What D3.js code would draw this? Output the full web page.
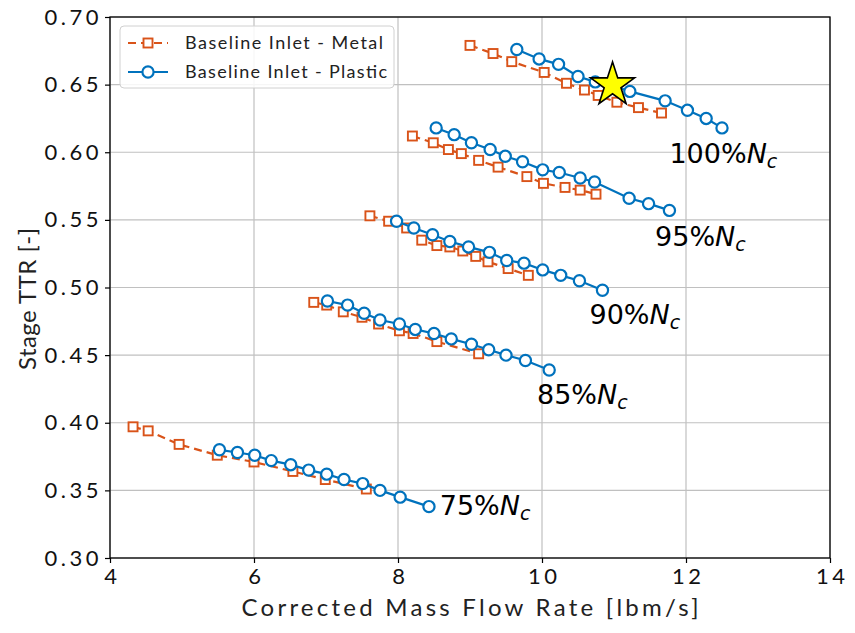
<!DOCTYPE html>
<meta charset="utf-8">
<style>
body { margin: 0; background: #fff; }
.tick text { font-family: Lato, "Open Sans", sans-serif; font-size: 22px; fill: #111; letter-spacing: 3.5px; }
.grid line { stroke: #c0c0c0; stroke-width: 1.2; }
.axis-label { font-family: Lato, "Open Sans", sans-serif; font-size: 24px; fill: #222; }
.speed { font-family: "DejaVu Sans", sans-serif; font-size: 27px; fill: #000; }
.legend text { font-family: Lato, "Open Sans", sans-serif; font-size: 18px; fill: #222; }
</style>
<body>
<script src="https://cdn.jsdelivr.net/npm/d3@7"></script>
<script>

var width = 855,
    height = 633,
    margin = {top: 17, right: 25, bottom: 75, left: 110};

var orange = "#D95319",
    blue = "#0072BD";

var xTicks = [4, 6, 8, 10, 12, 14];
var yTicks = [0.30, 0.35, 0.40, 0.45, 0.50, 0.55, 0.60, 0.65, 0.70];

// speed lines: [flow, TTR]
var speeds = ["75", "85", "90", "95", "100"];

var metal75 = [[4.32,0.397],[4.53,0.394],[4.96,0.384],[5.49,0.376],[6.00,0.371],[6.54,0.364],[6.99,0.358],[7.56,0.351]];
var metal85 = [[6.83,0.489],[7.01,0.487],[7.24,0.482],[7.50,0.478],[7.73,0.473],[8.02,0.468],[8.21,0.466],[8.54,0.460],[9.12,0.451]];
var metal90 = [[7.61,0.553],[7.87,0.549],[8.12,0.544],[8.33,0.535],[8.54,0.531],[8.72,0.530],[8.90,0.527],[9.08,0.523],[9.25,0.519],[9.53,0.514],[9.81,0.509]];
var metal95 = [[8.20,0.612],[8.49,0.607],[8.70,0.602],[8.88,0.599],[9.12,0.594],[9.39,0.589],[9.79,0.582],[10.02,0.577],[10.32,0.574],[10.53,0.572],[10.75,0.569]];
var metal100 = [[9.00,0.679],[9.32,0.673],[9.58,0.667],[10.03,0.659],[10.34,0.651],[10.59,0.646],[10.78,0.642],[11.04,0.637],[11.34,0.633],[11.66,0.629]];

var plastic75 = [[5.52,0.380],[5.77,0.378],[6.01,0.376],[6.24,0.372],[6.51,0.369],[6.76,0.365],[7.01,0.362],[7.25,0.358],[7.51,0.355],[7.75,0.350],[8.03,0.345],[8.43,0.338]];
var plastic85 = [[7.02,0.490],[7.30,0.487],[7.53,0.481],[7.75,0.476],[8.02,0.473],[8.24,0.469],[8.50,0.466],[8.74,0.462],[9.02,0.458],[9.26,0.454],[9.50,0.450],[9.77,0.446],[10.10,0.439]];
var plastic90 = [[7.98,0.549],[8.22,0.544],[8.48,0.539],[8.72,0.534],[8.98,0.530],[9.27,0.526],[9.51,0.520],[9.75,0.518],[10.01,0.513],[10.26,0.509],[10.52,0.505],[10.84,0.498]];
var plastic95 = [[8.53,0.618],[8.78,0.613],[9.02,0.607],[9.28,0.602],[9.49,0.597],[9.73,0.593],[10.01,0.587],[10.24,0.585],[10.53,0.581],[10.73,0.578],[11.21,0.566],[11.48,0.562],[11.77,0.557]];
var plastic100 = [[9.65,0.676],[9.96,0.669],[10.23,0.665],[10.50,0.656],[10.74,0.652],[10.99,0.649],[11.22,0.645],[11.71,0.638],[12.02,0.631],[12.28,0.625],[12.50,0.618]];

// label anchor (left, baseline) for each speed line
var labelPos = [[8.58,0.332],[9.93,0.414],[10.66,0.473],[11.57,0.531],[11.77,0.592]];

var designPoint = [10.98, 0.6497];

var metal = [metal75, metal85, metal90, metal95, metal100];
var plastic = [plastic75, plastic85, plastic90, plastic95, plastic100];

var x = d3.scaleLinear().domain([4, 14]).range([margin.left, width - margin.right]);
var y = d3.scaleLinear().domain([0.30, 0.70]).range([height - margin.bottom, margin.top]);

var svg = d3.select("body").append("svg")
    .attr("width", width)
    .attr("height", height);

// grid
svg.append("g").attr("class", "grid")
  .selectAll("line").data(xTicks).enter().append("line")
    .attr("x1", function(d) { return x(d); }).attr("x2", function(d) { return x(d); })
    .attr("y1", y(0.30)).attr("y2", y(0.70));
svg.append("g").attr("class", "grid")
  .selectAll("line").data(yTicks).enter().append("line")
    .attr("y1", function(d) { return y(d); }).attr("y2", function(d) { return y(d); })
    .attr("x1", x(4)).attr("x2", x(14));

// axes
var xAxis = svg.append("g")
    .attr("transform", "translate(0," + y(0.30) + ")")
    .call(d3.axisBottom(x).tickValues(xTicks).tickSize(5).tickPadding(5).tickFormat(d3.format("d")));
xAxis.selectAll(".tick text").attr("dx", "1.75px");
var yAxis = svg.append("g")
    .attr("transform", "translate(" + x(4) + ",0)")
    .call(d3.axisLeft(y).tickValues(yTicks).tickSize(5).tickPadding(3).tickFormat(d3.format(".2f")));
[xAxis, yAxis].forEach(function(a) {
  a.select(".domain").remove();
  a.selectAll(".tick line").attr("stroke", "#000").attr("stroke-width", 1.2);
});

// frame
svg.append("rect")
    .attr("x", x(4)).attr("y", y(0.70))
    .attr("width", x(14) - x(4)).attr("height", y(0.30) - y(0.70))
    .attr("fill", "none").attr("stroke", "#000").attr("stroke-width", 1.3);

var line = d3.line().x(function(d) { return x(d[0]); }).y(function(d) { return y(d[1]); });

// metal (squares, dashed)
var s = 9;
metal.forEach(function(data) {
  svg.append("path").datum(data)
    .attr("d", line).attr("fill", "none")
    .attr("stroke", orange).attr("stroke-width", 2.2)
    .attr("stroke-dasharray", "8,5");
  svg.append("g").selectAll("rect").data(data).enter().append("rect")
    .attr("x", function(d) { return x(d[0]) - s / 2; })
    .attr("y", function(d) { return y(d[1]) - s / 2; })
    .attr("width", s).attr("height", s)
    .attr("fill", "#fff").attr("stroke", orange).attr("stroke-width", 1.9);
});

// plastic (circles, solid)
plastic.forEach(function(data) {
  svg.append("path").datum(data)
    .attr("d", line).attr("fill", "none")
    .attr("stroke", blue).attr("stroke-width", 2.2);
  svg.append("g").selectAll("circle").data(data).enter().append("circle")
    .attr("cx", function(d) { return x(d[0]); })
    .attr("cy", function(d) { return y(d[1]); })
    .attr("r", 5.6)
    .attr("fill", "#fff").attr("stroke", blue).attr("stroke-width", 2.2);
});

// design point star
svg.append("path")
    .attr("d", d3.symbol().type(d3.symbolStar).size(600)())
    .attr("transform", "translate(" + x(designPoint[0]) + "," + y(designPoint[1]) + ")")
    .attr("fill", "#FFFF00").attr("stroke", "#000").attr("stroke-width", 1.6);

// speed labels
speeds.forEach(function(sp, i) {
  var t = svg.append("text").attr("class", "speed")
      .attr("x", x(labelPos[i][0])).attr("y", y(labelPos[i][1]));
  t.append("tspan").text(sp + "%");
  t.append("tspan").attr("font-style", "italic").text("N");
  t.append("tspan").attr("font-style", "italic").attr("font-size", "19px").attr("dy", 5).text("c");
});

// axis labels
svg.append("text").attr("class", "axis-label")
    .attr("x", (x(4) + x(14)) / 2).attr("y", 616)
    .attr("text-anchor", "middle")
    .attr("textLength", 457).attr("lengthAdjust", "spacing")
    .text("Corrected Mass Flow Rate [lbm/s]");
svg.append("text").attr("class", "axis-label")
    .attr("transform", "translate(36,299)rotate(-90)")
    .attr("text-anchor", "middle")
    .attr("textLength", 142).attr("lengthAdjust", "spacing")
    .text("Stage TTR [-]");

// legend
var legend = svg.append("g").attr("class", "legend");
legend.append("rect")
    .attr("x", 120).attr("y", 26).attr("width", 274).attr("height", 62).attr("rx", 4)
    .attr("fill", "#fff").attr("fill-opacity", 0.85)
    .attr("stroke", "#d0d0d0").attr("stroke-width", 1);
var items = [
  {label: "Baseline Inlet - Metal", color: orange, dash: "8,5", sym: "square", len: 198},
  {label: "Baseline Inlet - Plastic", color: blue, dash: null, sym: "circle", len: 202}
];
items.forEach(function(it, i) {
  var ly = 43 + i * 29;
  legend.append("line")
    .attr("x1", 128).attr("x2", 168).attr("y1", ly).attr("y2", ly)
    .attr("stroke", it.color).attr("stroke-width", 2.2)
    .attr("stroke-dasharray", it.dash);
  if (it.sym == "square") {
    legend.append("rect").attr("x", 148 - s / 2).attr("y", ly - s / 2).attr("width", s).attr("height", s)
      .attr("fill", "#fff").attr("stroke", it.color).attr("stroke-width", 1.9);
  } else {
    legend.append("circle").attr("cx", 148).attr("cy", ly).attr("r", 5.6)
      .attr("fill", "#fff").attr("stroke", it.color).attr("stroke-width", 2.2);
  }
  legend.append("text").attr("x", 185).attr("y", ly).attr("dy", "0.35em")
    .attr("textLength", it.len).attr("lengthAdjust", "spacing")
    .text(it.label);
});

</script>
</body>
